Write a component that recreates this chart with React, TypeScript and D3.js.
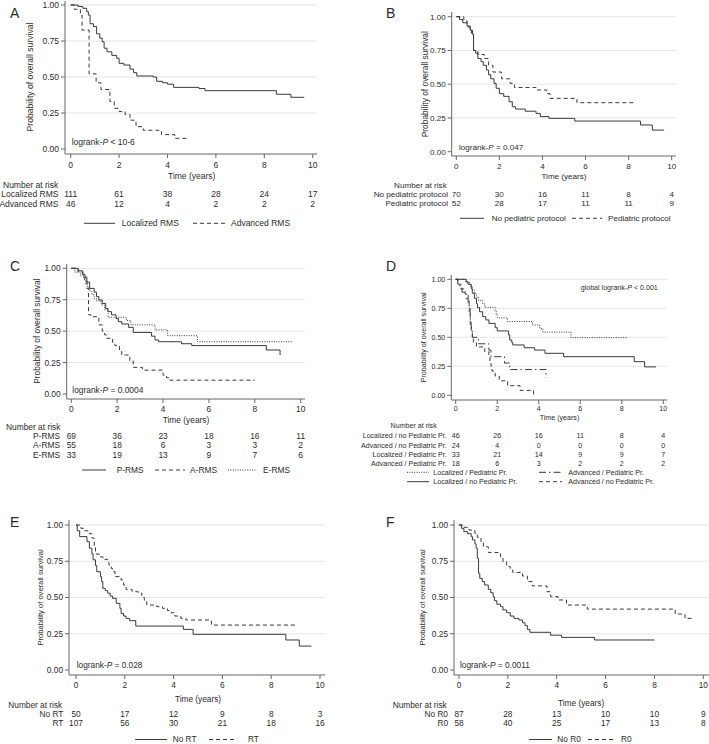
import React from "react";
import * as d3 from "d3";

// ---------- DATA ----------
const timeTicks = [0, 2, 4, 6, 8, 10];
const survTicks = [0, 0.25, 0.5, 0.75, 1];

// Panel A
const locRMS: [number, number][] = [[0,1],[0.3,0.99],[0.5,0.977],[0.66,0.954],[0.73,0.93],[0.8,0.87],[0.94,0.85],[1.07,0.80],[1.2,0.77],[1.3,0.745],[1.38,0.70],[1.5,0.675],[1.7,0.65],[1.9,0.63],[2.0,0.595],[2.2,0.583],[2.45,0.555],[2.6,0.53],[2.73,0.507],[3.4,0.50],[3.55,0.47],[3.8,0.46],[4.0,0.45],[4.25,0.428],[5.3,0.42],[5.55,0.405],[8.5,0.38],[9.1,0.359],[9.65,0.359]];
const advRMS: [number, number][] = [[0,1],[0.15,0.97],[0.4,0.93],[0.47,0.826],[0.76,0.522],[1.05,0.46],[1.25,0.413],[1.62,0.33],[1.8,0.283],[2.0,0.26],[2.25,0.24],[2.45,0.20],[2.7,0.155],[3.0,0.13],[3.75,0.10],[4.3,0.074],[4.9,0.074]];
const riskA_labels = ["Localized RMS", "Advanced RMS"];
const riskA_values = [[111, 61, 38, 28, 24, 17], [46, 12, 4, 2, 2, 2]];

// Panel B
const noPed: [number, number][] = [[0,1],[0.15,0.98],[0.3,0.955],[0.5,0.93],[0.65,0.90],[0.75,0.87],[0.8,0.75],[0.9,0.73],[1.0,0.69],[1.15,0.667],[1.25,0.64],[1.4,0.605],[1.5,0.57],[1.6,0.54],[1.75,0.506],[1.85,0.47],[2.0,0.43],[2.2,0.41],[2.45,0.37],[2.6,0.333],[2.75,0.316],[3.2,0.30],[3.7,0.284],[3.9,0.26],[4.3,0.247],[5.5,0.227],[8.55,0.198],[9.1,0.16],[9.65,0.16]];
const ped: [number, number][] = [[0,1],[0.35,0.97],[0.5,0.93],[0.6,0.90],[0.7,0.87],[0.8,0.75],[1.0,0.72],[1.3,0.69],[1.5,0.64],[1.7,0.59],[2.1,0.54],[2.5,0.506],[2.7,0.476],[3.7,0.457],[4.2,0.43],[4.35,0.395],[5.6,0.363],[8.3,0.363]];
const riskB_labels = ["No pediatric protocol", "Pediatric protocol"];
const riskB_values = [[70, 30, 16, 11, 8, 4], [52, 28, 17, 11, 11, 9]];

// Panel C
const pRMS: [number, number][] = [[0,1],[0.3,0.98],[0.5,0.95],[0.6,0.93],[0.68,0.89],[0.8,0.84],[1.0,0.81],[1.1,0.775],[1.2,0.748],[1.35,0.72],[1.5,0.68],[1.6,0.655],[1.75,0.63],[1.95,0.60],[2.05,0.576],[2.2,0.557],[2.5,0.53],[2.7,0.49],[3.5,0.46],[3.65,0.43],[3.8,0.416],[4.8,0.40],[5.25,0.385],[8.5,0.35],[9.1,0.33],[9.1,0.31]];
const aRMS: [number, number][] = [[0,1],[0.3,0.97],[0.5,0.93],[0.6,0.90],[0.68,0.84],[0.75,0.63],[0.85,0.615],[1.2,0.55],[1.35,0.50],[1.45,0.47],[1.55,0.443],[1.8,0.41],[1.9,0.385],[2.1,0.337],[2.2,0.31],[2.55,0.263],[2.7,0.212],[3.1,0.19],[4.0,0.15],[4.15,0.13],[4.3,0.11],[8.0,0.11]];
const eRMS: [number, number][] = [[0,1],[0.15,0.97],[0.4,0.94],[0.55,0.91],[0.62,0.88],[0.7,0.85],[0.8,0.82],[0.9,0.79],[1.0,0.76],[1.1,0.74],[1.3,0.708],[1.45,0.67],[1.6,0.61],[2.4,0.584],[2.6,0.55],[3.65,0.51],[4.2,0.464],[5.5,0.416],[9.65,0.416]];
const riskC_labels = ["P-RMS", "A-RMS", "E-RMS"];
const riskC_values = [[69, 36, 23, 18, 16, 11], [55, 18, 6, 3, 3, 2], [33, 19, 13, 9, 7, 6]];

// Panel D
const locNoPed: [number, number][] = [[0,1],[0.5,0.98],[0.6,0.957],[0.75,0.92],[0.8,0.88],[0.9,0.836],[1.0,0.79],[1.05,0.756],[1.15,0.72],[1.3,0.678],[1.45,0.65],[1.6,0.62],[1.9,0.583],[2.0,0.555],[2.55,0.52],[2.6,0.477],[2.7,0.455],[2.75,0.434],[3.3,0.41],[3.8,0.39],[4.3,0.362],[5.2,0.333],[8.6,0.29],[9.1,0.245],[9.65,0.245]];
const advNoPed: [number, number][] = [[0,1],[0.1,0.958],[0.25,0.917],[0.45,0.875],[0.6,0.833],[0.65,0.75],[0.7,0.63],[0.75,0.54],[0.8,0.50],[0.85,0.458],[1.0,0.417],[1.4,0.375],[1.6,0.333],[1.65,0.292],[1.7,0.25],[1.75,0.208],[1.9,0.167],[2.1,0.125],[2.5,0.083],[3.1,0.042],[3.75,0.042],[3.75,0]];
const locPed: [number, number][] = [[0,1],[0.5,0.97],[0.7,0.94],[0.8,0.909],[0.9,0.879],[1.0,0.848],[1.1,0.818],[1.3,0.788],[1.4,0.758],[1.9,0.727],[1.95,0.697],[2.0,0.667],[2.5,0.636],[3.7,0.606],[4.05,0.576],[4.2,0.545],[5.55,0.497],[8.3,0.497]];
const advPed: [number, number][] = [[0,1],[0.1,0.944],[0.3,0.889],[0.5,0.833],[0.6,0.778],[0.65,0.722],[0.7,0.611],[0.75,0.556],[0.8,0.5],[1.1,0.444],[1.6,0.389],[1.7,0.333],[2.35,0.278],[2.6,0.222],[4.35,0.222],[4.35,0.15]];
const riskD_labels = ["Localized / no Pediatric Pr.", "Advanced / no Pediatric Pr.", "Localized / Pediatric Pr.", "Advanced / Pediatric Pr."];
const riskD_values = [[46, 26, 16, 11, 8, 4], [24, 4, 0, 0, 0, 0], [33, 21, 14, 9, 9, 7], [18, 6, 3, 2, 2, 2]];

// Panel E
const noRT: [number, number][] = [[0,1],[0.05,0.96],[0.15,0.92],[0.45,0.885],[0.55,0.84],[0.65,0.80],[0.7,0.76],[0.8,0.72],[0.85,0.678],[1.0,0.644],[1.05,0.61],[1.1,0.563],[1.2,0.547],[1.3,0.53],[1.4,0.51],[1.5,0.494],[1.65,0.46],[1.8,0.425],[1.85,0.39],[1.95,0.372],[2.05,0.356],[2.2,0.34],[2.45,0.303],[4.4,0.28],[4.8,0.246],[8.6,0.207],[9.15,0.165],[9.65,0.165]];
const rt: [number, number][] = [[0,1],[0.2,0.977],[0.35,0.96],[0.55,0.94],[0.65,0.91],[0.75,0.85],[0.8,0.80],[0.95,0.78],[1.1,0.763],[1.3,0.747],[1.35,0.724],[1.45,0.70],[1.5,0.678],[1.6,0.644],[1.85,0.62],[1.95,0.586],[2.05,0.556],[2.3,0.54],[2.55,0.53],[2.7,0.50],[2.8,0.478],[2.9,0.448],[3.3,0.437],[3.55,0.425],[3.75,0.41],[3.9,0.395],[4.05,0.372],[4.3,0.356],[4.5,0.345],[5.55,0.31],[9.0,0.31]];
const riskE_labels = ["No RT", "RT"];
const riskE_values = [[50, 17, 12, 9, 8, 3], [107, 56, 30, 21, 18, 16]];

// Panel F
const noR0: [number, number][] = [[0,1],[0.1,0.977],[0.2,0.954],[0.35,0.94],[0.5,0.92],[0.55,0.897],[0.65,0.87],[0.7,0.84],[0.75,0.77],[0.8,0.667],[0.85,0.632],[0.95,0.61],[1.05,0.586],[1.2,0.556],[1.3,0.533],[1.4,0.506],[1.45,0.478],[1.55,0.453],[1.7,0.437],[1.8,0.414],[1.95,0.395],[2.1,0.372],[2.25,0.356],[2.45,0.345],[2.6,0.326],[2.7,0.306],[2.8,0.28],[2.9,0.26],[3.75,0.24],[4.2,0.225],[5.55,0.207],[8.0,0.207]];
const r0: [number, number][] = [[0,1],[0.15,0.984],[0.4,0.965],[0.65,0.943],[0.75,0.915],[0.9,0.885],[1.0,0.85],[1.2,0.81],[1.7,0.78],[1.8,0.747],[1.95,0.713],[2.1,0.69],[2.2,0.673],[2.6,0.648],[2.8,0.61],[3.0,0.58],[3.6,0.54],[3.75,0.506],[4.05,0.483],[4.4,0.448],[5.25,0.42],[8.85,0.386],[9.25,0.356],[9.6,0.356]];
const riskF_labels = ["No R0", "R0"];
const riskF_values = [[87, 28, 13, 10, 10, 9], [58, 40, 25, 17, 13, 8]];

// ---------- STYLE ----------
const FONT = "'Liberation Sans', Arial, Helvetica, sans-serif";
const INK = "#2b2b2b";
const LINE = "#3a3a3a";
const AXIS = "#666";
const GRID = "#e6e6e6";
const DASH: Record<string, string | undefined> = {
  solid: undefined,
  dash: "4,3",
  dot: "1,1.4",
  dashdot: "7,3,1.5,3",
};

type Curve = { data: [number, number][]; style: string };
type LegendItem = { x1: number; x2: number; tx: number; y: number; style: string; label: string };

type PanelCfg = {
  letter: string; lx: number; ly: number;
  fs: number; yfs: number;
  x0: number; x10: number; y1: number; y0: number;
  axisX: number; axisY: number; right: number; top: number;
  yLabelX: number; tickY: number; titleY: number;
  curves: Curve[];
  ann: { x: number; y: number; pre: string; post: string };
  risk: { headX: number; headY: number; headAnchor: string; labelX: number; rowsY: number[]; labels: string[]; values: number[][] };
  legend: LegendItem[];
};

const panels: PanelCfg[] = [
  {
    letter: "A", lx: 10, ly: 13.5, fs: 8.5, yfs: 8.6,
    x0: 70.7, x10: 312.7, y1: 5, y0: 149, axisX: 65, axisY: 154, right: 317, top: 1,
    yLabelX: 30, tickY: 164.7, titleY: 176.5,
    curves: [{ data: locRMS, style: "solid" }, { data: advRMS, style: "dash" }],
    ann: { x: 71.7, y: 141.7, pre: "logrank-", post: " < 10-6" },
    risk: { headX: 3, headY: 185, headAnchor: "start", labelX: 58.5, rowsY: [194.3, 204.3], labels: riskA_labels, values: riskA_values },
    legend: [
      { x1: 84, x2: 115, tx: 121.7, y: 223.3, style: "solid", label: "Localized RMS" },
      { x1: 193, x2: 227, tx: 231, y: 223.3, style: "dash", label: "Advanced RMS" },
    ],
  },
  {
    letter: "B", lx: 386, ly: 13, fs: 8.1, yfs: 8.4,
    x0: 456.3, x10: 671.7, y1: 16.7, y0: 151.7, axisX: 451.7, axisY: 156, right: 676, top: 12,
    yLabelX: 425, tickY: 166, titleY: 176.2,
    curves: [{ data: noPed, style: "solid" }, { data: ped, style: "dash" }],
    ann: { x: 459, y: 146.7, pre: "logrank-", post: " = 0.047" },
    risk: { headX: 446.7, headY: 185, headAnchor: "end", labelX: 448, rowsY: [194, 203.3], labels: riskB_labels, values: riskB_values },
    legend: [
      { x1: 460, x2: 484, tx: 491.7, y: 218.3, style: "solid", label: "No pediatric protocol" },
      { x1: 572, x2: 602, tx: 608, y: 218.3, style: "dash", label: "Pediatric protocol" },
    ],
  },
  {
    letter: "C", lx: 10, ly: 266, fs: 8.4, yfs: 8.3,
    x0: 71.3, x10: 300.7, y1: 268.3, y0: 394, axisX: 66.7, axisY: 399, right: 305, top: 264,
    yLabelX: 36.7, tickY: 409, titleY: 420,
    curves: [{ data: pRMS, style: "solid" }, { data: aRMS, style: "dash" }, { data: eRMS, style: "dot" }],
    ann: { x: 72.3, y: 390, pre: "logrank-", post: " = 0.0004" },
    risk: { headX: 6, headY: 427.3, headAnchor: "start", labelX: 60, rowsY: [436, 445.3, 454.7], labels: riskC_labels, values: riskC_values },
    legend: [
      { x1: 82, x2: 106, tx: 116.7, y: 470, style: "solid", label: "P-RMS" },
      { x1: 155, x2: 185, tx: 190, y: 470, style: "dash", label: "A-RMS" },
      { x1: 228, x2: 257, tx: 263, y: 470, style: "dot", label: "E-RMS" },
    ],
  },
  {
    letter: "D", lx: 386, ly: 266, fs: 7.1, yfs: 7.1,
    x0: 455.7, x10: 663.3, y1: 279.3, y0: 395.3, axisX: 451.3, axisY: 400, right: 667.3, top: 275,
    yLabelX: 423.3, tickY: 408.5, titleY: 417.7,
    curves: [{ data: locNoPed, style: "solid" }, { data: advNoPed, style: "dash" }, { data: locPed, style: "dot" }, { data: advPed, style: "dashdot" }],
    ann: { x: 580.7, y: 287.3, pre: "global logrank-", post: " < 0.001" },
    risk: { headX: 436.7, headY: 425.7, headAnchor: "end", labelX: 446.7, rowsY: [436, 445.3, 454.3, 463.3], labels: riskD_labels, values: riskD_values },
    legend: [
      { x1: 407, x2: 429, tx: 433.3, y: 472.3, style: "dot", label: "Localized / Pediatric Pr." },
      { x1: 539, x2: 562, tx: 568.3, y: 472.3, style: "dashdot", label: "Advanced / Pediatric Pr." },
      { x1: 407, x2: 429, tx: 433.3, y: 481.7, style: "solid", label: "Localized / no Pediatric Pr." },
      { x1: 539, x2: 562, tx: 568.3, y: 481.7, style: "dash", label: "Advanced / no Pediatric Pr." },
    ],
  },
  {
    letter: "E", lx: 10, ly: 522, fs: 8.3, yfs: 7.6,
    x0: 76, x10: 320, y1: 525, y0: 670, axisX: 69, axisY: 675, right: 325, top: 520,
    yLabelX: 40, tickY: 685, titleY: 699.3,
    curves: [{ data: noRT, style: "solid" }, { data: rt, style: "dash" }],
    ann: { x: 76.7, y: 665, pre: "logrank-", post: " = 0.028" },
    risk: { headX: 8.3, headY: 705, headAnchor: "start", labelX: 63.3, rowsY: [714.3, 723.3], labels: riskE_labels, values: riskE_values },
    legend: [
      { x1: 135, x2: 167, tx: 172.7, y: 739.5, style: "solid", label: "No RT" },
      { x1: 209, x2: 237, tx: 248, y: 739.5, style: "dash", label: "RT" },
    ],
  },
  {
    letter: "F", lx: 386, ly: 522, fs: 8.3, yfs: 7.6,
    x0: 459, x10: 703.3, y1: 525, y0: 670, axisX: 454, axisY: 675, right: 709, top: 520,
    yLabelX: 422, tickY: 685, titleY: 703.3,
    curves: [{ data: noR0, style: "solid" }, { data: r0, style: "dash" }],
    ann: { x: 460, y: 665, pre: "logrank-", post: " = 0.0011" },
    risk: { headX: 446.7, headY: 705, headAnchor: "end", labelX: 448, rowsY: [714.3, 723.3], labels: riskF_labels, values: riskF_values },
    legend: [
      { x1: 529, x2: 552, tx: 557.3, y: 739.5, style: "solid", label: "No R0" },
      { x1: 588, x2: 616, tx: 621, y: 739.5, style: "dash", label: "R0" },
    ],
  },
];

function Panel({ p }: { p: PanelCfg }) {
  const x = d3.scaleLinear().domain([0, 10]).range([p.x0, p.x10]);
  const y = d3.scaleLinear().domain([0, 1]).range([p.y0, p.y1]);
  const line = d3.line<[number, number]>().x((d) => x(d[0])).y((d) => y(d[1])).curve(d3.curveStepAfter);
  const yMid = (p.y0 + p.y1) / 2;
  const titleX = (p.x0 + p.x10) / 2;
  const FS = p.fs;
  return (
    <g>
      <text x={p.lx} y={p.ly} dy="0.35em" fontSize={14} fill={INK}>{p.letter}</text>
      {survTicks.filter((t) => t > 0).map((t) => (
        <line key={"g" + t} x1={p.axisX} x2={p.right} y1={y(t)} y2={y(t)} stroke={GRID} strokeWidth={1} />
      ))}
      <line x1={p.axisX} x2={p.axisX} y1={p.top} y2={p.axisY} stroke={AXIS} strokeWidth={1} />
      <line x1={p.axisX} x2={p.right} y1={p.axisY} y2={p.axisY} stroke={AXIS} strokeWidth={1} />
      {survTicks.map((t) => (
        <g key={"yt" + t}>
          <line x1={p.axisX - 4} x2={p.axisX} y1={y(t)} y2={y(t)} stroke={AXIS} />
          <text x={p.axisX - 6} y={y(t)} dy="0.35em" textAnchor="end" fontSize={FS} fill={INK}>{t.toFixed(2)}</text>
        </g>
      ))}
      {timeTicks.map((t) => (
        <g key={"xt" + t}>
          <line x1={x(t)} x2={x(t)} y1={p.axisY} y2={p.axisY + 4} stroke={AXIS} />
          <text x={x(t)} y={p.tickY} dy="0.35em" textAnchor="middle" fontSize={FS} fill={INK}>{t}</text>
        </g>
      ))}
      <text x={titleX} y={p.titleY} dy="0.35em" textAnchor="middle" fontSize={FS} fill={INK}>Time (years)</text>
      <text transform={`translate(${p.yLabelX},${yMid}) rotate(-90)`} dy="0.35em" textAnchor="middle" fontSize={p.yfs} fill={INK}>Probability of overall survival</text>
      {p.curves.map((c, i) => (
        <path key={"c" + i} d={line(c.data) || ""} fill="none" stroke={LINE} strokeWidth={1} strokeDasharray={DASH[c.style]} />
      ))}
      <text x={p.ann.x} y={p.ann.y} dy="0.35em" fontSize={FS} fill={INK}>
        {p.ann.pre}<tspan fontStyle="italic">P</tspan>{p.ann.post}
      </text>
      <text x={p.risk.headX} y={p.risk.headY} dy="0.35em" textAnchor={p.risk.headAnchor} fontSize={FS} fill={INK}>Number at risk</text>
      {p.risk.labels.map((lab, i) => (
        <g key={"r" + i}>
          <text x={p.risk.labelX} y={p.risk.rowsY[i]} dy="0.35em" textAnchor="end" fontSize={FS} fill={INK}>{lab}</text>
          {p.risk.values[i].map((v, j) => (
            <text key={j} x={x(timeTicks[j])} y={p.risk.rowsY[i]} dy="0.35em" textAnchor="middle" fontSize={FS} fill={INK}>{v}</text>
          ))}
        </g>
      ))}
      {p.legend.map((l, i) => (
        <g key={"l" + i}>
          <line x1={l.x1} x2={l.x2} y1={l.y} y2={l.y} stroke={LINE} strokeWidth={1} strokeDasharray={DASH[l.style]} />
          <text x={l.tx} y={l.y} dy="0.35em" fontSize={FS} fill={INK}>{l.label}</text>
        </g>
      ))}
    </g>
  );
}

export default function App() {
  return (
    <svg width={709} height={744} viewBox="0 0 709 744" style={{ position: "absolute", left: 0, top: 0, background: "#fff", fontFamily: FONT }}>
      <rect x={0} y={0} width={709} height={744} fill="#fff" />
      {panels.map((p) => <Panel key={p.letter} p={p} />)}
    </svg>
  );
}
